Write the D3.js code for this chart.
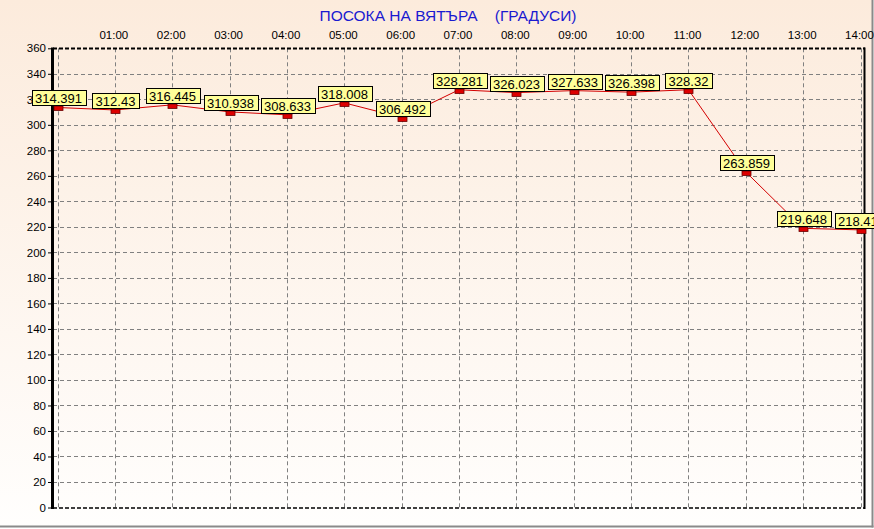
<!DOCTYPE html>
<html>
<head>
<meta charset="utf-8">
<script src="https://cdn.jsdelivr.net/npm/d3@7"></script>
<style>
  html, body { margin: 0; padding: 0; background: #fff; }
  svg { display: block; font-family: "Liberation Sans", Arial, sans-serif; }
</style>
</head>
<body>
<svg id="chart" width="874" height="529"></svg>
<script>
// ---- data ----
const hours = [0, 1, 2, 3, 4, 5, 6, 7, 8, 9, 10, 11, 12, 13, 14];
const hourLabels = ["", "01:00", "02:00", "03:00", "04:00", "05:00", "06:00", "07:00",
                    "08:00", "09:00", "10:00", "11:00", "12:00", "13:00", "14:00"];
const windDir = [314.391, 312.43, 316.445, 310.938, 308.633, 318.008, 306.492, 328.281,
                 326.023, 327.633, 326.398, 328.32, 263.859, 219.648, 218.414];
const yTicks = d3.range(0, 361, 20);
const titleText = "ПОСОКА НА ВЯТЪРА    (ГРАДУСИ)";

const svg = d3.select("#chart");
const W = 874, H = 529;

// background gradient
const defs = svg.append("defs");
const grad = defs.append("linearGradient").attr("id", "bg")
  .attr("x1", 0).attr("y1", 0).attr("x2", 0).attr("y2", 1);
grad.append("stop").attr("offset", "0%").attr("stop-color", "#fcebdc");
grad.append("stop").attr("offset", "100%").attr("stop-color", "#fffefd");

svg.append("rect").attr("x", 0).attr("y", 0).attr("width", W).attr("height", H).attr("fill", "#ffffff");
svg.append("rect").attr("x", 0).attr("y", 0).attr("width", 872).attr("height", 526).attr("fill", "url(#bg)");
// window frame
svg.append("line").attr("x1", 872.5).attr("x2", 872.5).attr("y1", 0).attr("y2", 527.5)
  .attr("stroke", "#8a8a8a").attr("stroke-width", 2);
svg.append("line").attr("x1", 0).attr("x2", 873.5).attr("y1", 526.5).attr("y2", 526.5)
  .attr("stroke", "#8a8a8a").attr("stroke-width", 2);

// scales
const x = d3.scaleLinear().domain([0, 14]).range([57.5, 860.5]);
const y = d3.scaleLinear().domain([0, 360]).range([507.5, 48.3]);

const left = 53, right = 865;

// title
svg.append("text")
  .attr("x", 448).attr("y", 21)
  .attr("text-anchor", "middle")
  .attr("fill", "#1a1ad0")
  .attr("font-size", "15.5px")
  .style("white-space", "pre")
  .attr("xml:space", "preserve")
  .text(titleText);

// horizontal grid
svg.append("g").selectAll("line")
  .data(yTicks.filter(v => v > 0 && v < 360))
  .join("line")
  .attr("x1", left).attr("x2", right)
  .attr("y1", d => Math.round(y(d)) + 0.5).attr("y2", d => Math.round(y(d)) + 0.5)
  .attr("stroke", "#808080").attr("stroke-width", 1).attr("stroke-dasharray", "4,3");

// vertical grid
svg.append("g").selectAll("line")
  .data(hours)
  .join("line")
  .attr("x1", d => Math.round(x(d)) + 0.5).attr("x2", d => Math.round(x(d)) + 0.5)
  .attr("y1", y(360)).attr("y2", y(0))
  .attr("stroke", "#808080").attr("stroke-width", 1).attr("stroke-dasharray", "4,3");

// borders
svg.append("line").attr("x1", left).attr("x2", right).attr("y1", 48.5).attr("y2", 48.5)
  .attr("stroke", "#000").attr("stroke-width", 2).attr("stroke-dasharray", "4,2");
svg.append("line").attr("x1", left).attr("x2", right).attr("y1", 508).attr("y2", 508)
  .attr("stroke", "#000").attr("stroke-width", 1.5).attr("stroke-dasharray", "4,2");
svg.append("line").attr("x1", 864.5).attr("x2", 864.5).attr("y1", 47.5).attr("y2", 509)
  .attr("stroke", "#000").attr("stroke-width", 2);

// y axis via d3.axisLeft
const yAxis = d3.axisLeft(y).tickValues(yTicks).tickSize(5).tickSizeOuter(0).tickPadding(2);
const gy = svg.append("g").attr("transform", `translate(${left},0)`).call(yAxis);
gy.select(".domain").remove();
gy.selectAll(".tick line").attr("stroke", "#000").attr("stroke-width", 1);
gy.selectAll(".tick text").attr("font-size", "11.5px").attr("fill", "#000")
  .attr("font-family", "'Liberation Sans', Arial, sans-serif");
svg.append("line").attr("x1", 52.5).attr("x2", 52.5).attr("y1", 47.5).attr("y2", 509)
  .attr("stroke", "#000").attr("stroke-width", 3);

// x axis labels on top
const xAxis = d3.axisTop(x).tickValues(hours.filter(h => h > 0))
  .tickFormat(d => hourLabels[d]).tickSize(0).tickPadding(0);
const gx = svg.append("g").attr("transform", "translate(-1.5,38.5)").call(xAxis);
gx.select(".domain").remove();
gx.selectAll(".tick text").attr("font-size", "11.5px").attr("fill", "#000").attr("dy", 0)
  .attr("font-family", "'Liberation Sans', Arial, sans-serif");

// line
svg.append("path")
  .datum(hours)
  .attr("fill", "none")
  .attr("stroke", "#d40000")
  .attr("stroke-width", 1)
  .attr("d", d3.line().x(h => x(h)).y(h => y(windDir[h]) + 1));

// markers
svg.append("g").selectAll("rect")
  .data(hours)
  .join("rect")
  .attr("x", h => Math.round(x(h)) - 4)
  .attr("y", h => Math.round(y(windDir[h])))
  .attr("width", 9).attr("height", 4.5)
  .attr("fill", "#dd0000").attr("stroke", "#6a0000").attr("stroke-width", 0.8);

// labels
const lab = svg.append("g").selectAll("g")
  .data(hours)
  .join("g");
lab.each(function(h) {
  const g = d3.select(this);
  const t = g.append("text")
    .attr("font-size", "13px").attr("fill", "#000")
    .attr("text-anchor", "middle")
    .text(String(windDir[h]));
  const w = t.node().getComputedTextLength() + 7;
  const cx = Math.round(x(h)) + 0.5;
  const bottom = Math.round(y(windDir[h])) - 0.5;
  g.insert("rect", "text")
    .attr("x", Math.round(cx - w / 2) + 0.5).attr("y", bottom - 15)
    .attr("width", Math.round(w)).attr("height", 15)
    .attr("fill", "#ffff99").attr("stroke", "#000").attr("stroke-width", 1);
  t.attr("x", cx).attr("y", bottom - 3);
});
</script>
</body>
</html>
